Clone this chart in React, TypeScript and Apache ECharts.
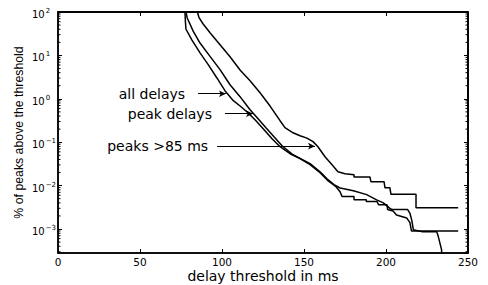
import React, { useEffect, useRef } from 'react';
import * as echarts from 'echarts';

// ---- data ----
const xTickValues = [0, 50, 100, 150, 200, 250];
const yDecadeExponents = [-3, -2, -1, 0, 1, 2];
const xMin = 0;
const xMax = 250;
const yMin = 2.8e-4;
const yMax = 100;

// "all delays" (% of peaks above threshold)
const allDelays: [number, number][] = [
  [77.4, 100], [77.7, 59.8], [78.0, 40.6], [81.5, 23.0], [86.6, 11.4], [91.6, 6.11],
  [96.8, 3.06], [101.8, 1.54], [106.9, 0.904], [111.6, 0.657], [116.0, 0.471],
  [120.7, 0.313], [126.2, 0.184], [130.5, 0.12], [135.4, 0.0787], [141.5, 0.0543],
  [147.6, 0.0417], [153.7, 0.0303], [159.8, 0.0198], [164.6, 0.013], [169.5, 0.0094],
  [172.0, 0.0072], [173.2, 0.0056], [180.5, 0.0056], [180.5, 0.0047], [188.0, 0.0047],
  [188.0, 0.0043], [194.5, 0.0043], [195.5, 0.0036], [200.6, 0.0036], [201.0, 0.0028],
  [204.3, 0.0026], [206.4, 0.0021], [208.5, 0.002], [212.6, 0.0018], [214.6, 0.0014],
  [215.5, 0.0009], [244, 0.0009],
];

// "peak delays"
const peakDelays: [number, number][] = [
  [78.0, 100], [78.8, 72.7], [82.5, 35.7], [86.6, 19.3], [92.7, 9.48], [98.8, 4.69],
  [104.9, 2.11], [111.0, 1.12], [117.1, 0.561], [122.0, 0.348], [126.8, 0.216],
  [131.7, 0.134], [136.6, 0.083], [143.3, 0.0515], [153.7, 0.032], [159.8, 0.0209],
  [164.0, 0.0144], [168.3, 0.0105], [172.0, 0.0088], [180.1, 0.0076], [188.2, 0.0062],
  [194.3, 0.0047], [198.4, 0.004], [202.4, 0.003], [203.7, 0.0028], [213.2, 0.0028],
  [214.6, 0.0023], [215.7, 0.0016], [216.7, 0.00096], [221.8, 0.00087], [230.9, 0.00087],
  [231.9, 0.00067], [233.9, 0.00033], [234.9, 0.00001],
];

// "peaks >85 ms"
const peaksOver85: [number, number][] = [
  [85, 100], [86.0, 74], [88.4, 53.7], [92.7, 33.3], [98.8, 17.6], [104.9, 9.3],
  [111.0, 4.6], [117.1, 2.6], [123.2, 1.38], [129.3, 0.68], [135.4, 0.313],
  [138.4, 0.216], [143.3, 0.165], [147.6, 0.141], [151.8, 0.124], [155.5, 0.103],
  [158.5, 0.0787], [162.8, 0.0463], [167.1, 0.0303], [170.7, 0.0209], [175.0, 0.0188],
  [180.5, 0.0178], [180.5, 0.0158], [190.2, 0.0158], [190.8, 0.0123], [198.8, 0.0123],
  [199.4, 0.0089], [202.4, 0.0089], [203.0, 0.0063], [218.3, 0.0063], [218.3, 0.0031],
  [244, 0.0031],
];

// annotations (arrow from start x to end x at value y)
const annotationLabels = ['all delays', 'peak delays', 'peaks >85 ms'];
const annotationStartX = [85.4, 101.8, 97.0];
const annotationEndX = [102.4, 118.9, 156.7];
const annotationY = [1.31, 0.454, 0.0809];
const annotationGap = [13, 13, 9];

const FONT = 'DejaVu Sans';
const GRID = { left: 58, top: 12, width: 410, height: 241 };

export default function App() {
  const ref = useRef<HTMLDivElement>(null);

  useEffect(() => {
    if (!ref.current) return;
    const chart = echarts.init(ref.current, undefined, { renderer: 'svg' });

    const minorTickValues: number[] = [];
    for (let e = -4; e <= 1; e++) {
      for (let m = 2; m <= 9; m++) {
        const v = m * Math.pow(10, e);
        if (v > yMin && v < yMax) minorTickValues.push(v);
      }
    }

    const axisLineStyle = { color: '#000', width: 1.5 };
    const tickStyle = { color: '#000', width: 1 };

    const lineSeries = (name: string, data: [number, number][], extra: any = {}) => ({
      name,
      type: 'line',
      data,
      xAxisIndex: 0,
      yAxisIndex: 0,
      symbol: 'none',
      silent: true,
      clip: true,
      lineStyle: { color: '#000', width: 1.5 },
      ...extra,
    });

    const markLineData = annotationLabels.map((label, i) => [
      {
        coord: [annotationStartX[i], annotationY[i]],
        label: {
          show: true,
          position: 'start',
          formatter: label,
          distance: annotationGap[i],
          color: '#000',
          fontFamily: FONT,
          fontSize: 14,
        },
      },
      { coord: [annotationEndX[i], annotationY[i]] },
    ]);

    const option: any = {
      animation: false,
      grid: {
        ...GRID,
        containLabel: false,
        outerBoundsMode: 'none',
        show: false,
      },
      graphic: [
        {
          type: 'rect',
          silent: true,
          z: 100,
          shape: { x: GRID.left, y: GRID.top, width: GRID.width, height: GRID.height },
          style: { fill: 'none', stroke: '#000', lineWidth: 1.5 },
        },
      ],
      xAxis: [
        {
          type: 'value',
          min: xMin,
          max: xMax,
          interval: 50,
          position: 'bottom',
          axisLine: { show: true, onZero: false, lineStyle: axisLineStyle },
          axisTick: { show: true, inside: true, length: 4, lineStyle: tickStyle },
          splitLine: { show: false },
          axisLabel: {
            color: '#000',
            fontFamily: FONT,
            fontSize: 10.5,
            margin: 3,
            formatter: (v: number) => (xTickValues.includes(v) ? String(v) : ''),
          },
          name: 'delay threshold in ms',
          nameLocation: 'middle',
          nameGap: 16,
          nameMoveOverlap: false,
          nameTextStyle: { color: '#000', fontFamily: FONT, fontSize: 14 },
        },
        {
          type: 'value',
          min: xMin,
          max: xMax,
          interval: 50,
          position: 'top',
          axisLine: { show: true, onZero: false, lineStyle: axisLineStyle },
          axisTick: { show: true, inside: true, length: 4, lineStyle: tickStyle },
          splitLine: { show: false },
          axisLabel: { show: false },
        },
      ],
      yAxis: [
        {
          type: 'log',
          logBase: 10,
          min: yMin,
          max: yMax,
          position: 'left',
          axisLine: { show: true, onZero: false, lineStyle: axisLineStyle },
          axisTick: { show: true, inside: true, length: 4, lineStyle: tickStyle },
          splitLine: { show: false },
          axisLabel: {
            showMinLabel: false,
            align: 'left',
            margin: 26,
            formatter: (v: number) => {
              const e = Math.round(Math.log10(v));
              if (!yDecadeExponents.includes(e)) return '';
              const s = e < 0 ? '\u2212' + -e : String(e);
              return '{b|10}{s|' + s + '}';
            },
            rich: {
              b: { fontFamily: FONT, fontSize: 10, lineHeight: 16, color: '#000', padding: [5, 0, 0, 0] },
              s: { fontFamily: FONT, fontSize: 7, lineHeight: 16, color: '#000', padding: [0, 0, 2, 1] },
            },
          },
          name: '% of peaks above the threshold',
          nameLocation: 'middle',
          nameGap: 33,
          nameRotate: 90,
          nameMoveOverlap: false,
          nameTextStyle: { color: '#000', fontFamily: 'Liberation Sans', fontSize: 12.3 },
        },
        {
          type: 'log',
          logBase: 10,
          min: yMin,
          max: yMax,
          position: 'right',
          axisLine: { show: true, onZero: false, lineStyle: axisLineStyle },
          axisTick: { show: true, inside: true, length: 4, lineStyle: tickStyle },
          splitLine: { show: false },
          axisLabel: { show: false },
        },
      ],
      series: [
        lineSeries('all delays', allDelays),
        lineSeries('peak delays', peakDelays),
        lineSeries('peaks >85 ms', peaksOver85, {
          markLine: {
            silent: true,
            symbol: ['none', 'arrow'],
            symbolSize: [5, 7],
            emphasis: { disabled: true },
            lineStyle: { color: '#000', width: 1, type: 'solid' },
            data: markLineData,
          },
        }),
        {
          type: 'custom',
          xAxisIndex: 0,
          yAxisIndex: 0,
          silent: true,
          clip: false,
          z: 10,
          data: minorTickValues.map((v) => [0, v]),
          renderItem: (params: any, api: any) => {
            const v = api.value(1);
            const l = api.coord([xMin, v]);
            const r = api.coord([xMax, v]);
            const children: any[] = [
              { type: 'line', shape: { x1: l[0], y1: l[1], x2: l[0] + 2.5, y2: l[1] }, style: { stroke: '#000', lineWidth: 1 } },
              { type: 'line', shape: { x1: r[0] - 2.5, y1: r[1], x2: r[0], y2: r[1] }, style: { stroke: '#000', lineWidth: 1 } },
            ];
            if (params.dataIndex === 0) {
              const tl = api.coord([xMin, yMax]);
              const tr = api.coord([xMax, yMax]);
              const br = api.coord([xMax, yMin]);
              children.push(
                { type: 'line', shape: { x1: tl[0], y1: tl[1], x2: tr[0], y2: tr[1] }, style: { stroke: '#000', lineWidth: 1.5 } },
                { type: 'line', shape: { x1: tr[0], y1: tr[1], x2: br[0], y2: br[1] }, style: { stroke: '#000', lineWidth: 1.5 } },
              );
            }
            return { type: 'group', children };
          },
        },
      ],
    };

    chart.setOption(option);
    return () => chart.dispose();
  }, []);

  return (
    <div
      ref={ref}
      style={{ position: 'fixed', left: 0, top: 0, width: 488, height: 285, background: '#fff' }}
    />
  );
}
